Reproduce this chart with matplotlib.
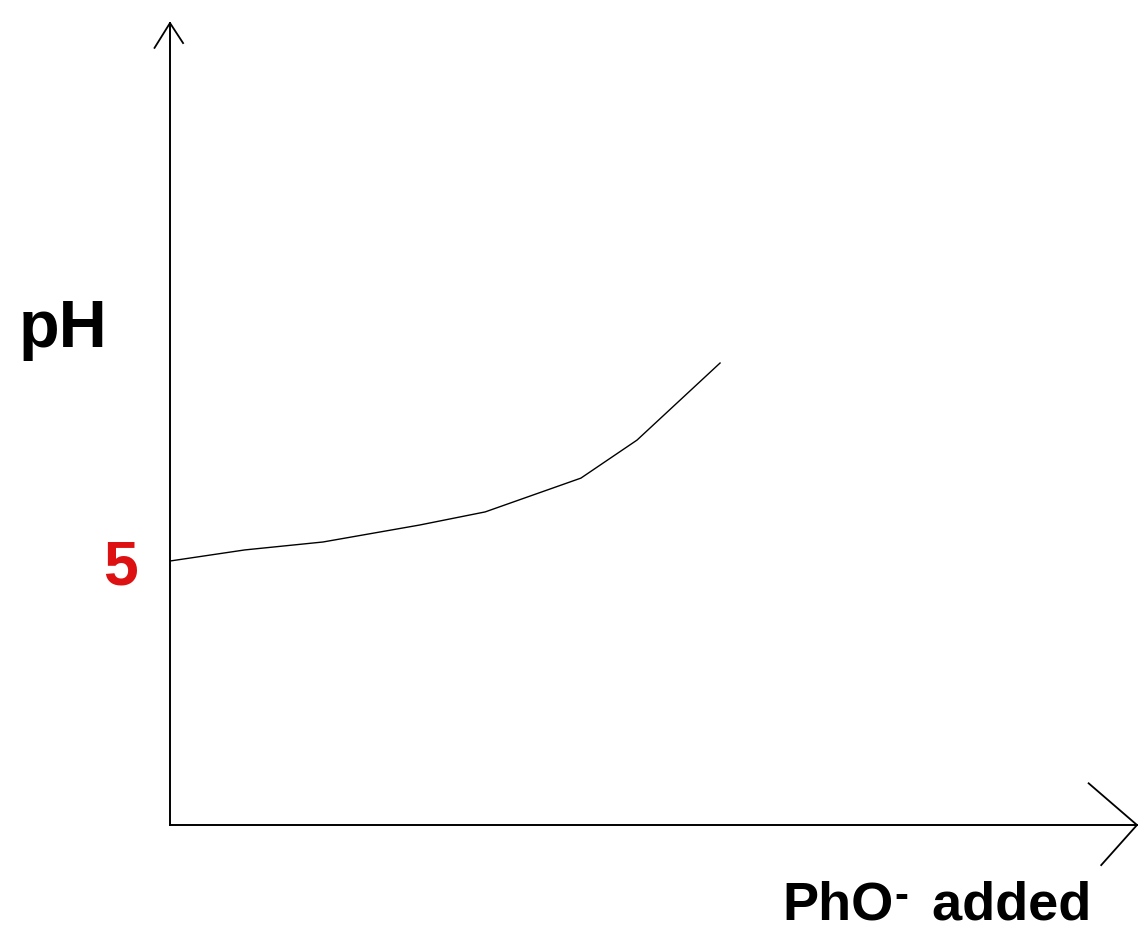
import matplotlib
matplotlib.use('Agg')
import matplotlib.pyplot as plt

plt.rcParams['font.family'] = ['Liberation Sans', 'DejaVu Sans']

# data
phO_added = [0.0, 1.36, 2.78, 4.53, 5.73, 7.47, 8.49, 10.0]
pH = [5.0, 5.21, 5.36, 5.68, 5.93, 6.57, 7.29, 8.75]
y_ticks = [5]
y_tick_labels = ['5']

fig = plt.figure(figsize=(11.39, 9.34), dpi=100)
ax = fig.add_axes([170 / 1139, 109 / 934, 967 / 1139, 802 / 934])

ax.plot(phO_added, pH, color='black', lw=1.0)

ax.set_xlim(0, 17.58)
ax.set_ylim(0, 15.19)

for s in ['top', 'right']:
    ax.spines[s].set_visible(False)
for s in ['left', 'bottom']:
    ax.spines[s].set_linewidth(1.4)

ax.set_xticks([])
ax.set_yticks(y_ticks)
ax.set_yticklabels(y_tick_labels, color='#dd1111', fontsize=45, fontweight='bold')
ax.tick_params(axis='y', length=0, pad=23)

ax.set_ylabel('pH', rotation=0, fontsize=48, fontweight='bold', ha='center', va='center')
ax.yaxis.set_label_coords(-0.111, 0.617)

# x label: "PhO" + small raised dash + " added"
t1 = ax.text((782 - 170) / 967, -(919 - 825) / 802, 'PhO', transform=ax.transAxes,
             fontsize=39, fontweight='bold', ha='left', va='baseline')
t2 = ax.annotate('-', xy=(1.0, 1.0), xycoords=t1, xytext=(1, 2), textcoords='offset points',
                 fontsize=30, fontweight='bold', ha='left', va='top')
ax.annotate(' added', xy=(1.0, 0.0), xycoords=(t2, t1), xytext=(6, 0),
            textcoords='offset points', fontsize=39, fontweight='bold',
            ha='left', va='bottom')

# open arrow heads at the axis ends
ax.plot([-0.016, 0.0, 0.0135], [0.969, 1.0, 0.975], color='black', lw=1.3,
        transform=ax.transAxes, clip_on=False)
ax.plot([0.95, 1.0, 0.963], [0.052, 0.0, -0.05], color='black', lw=1.3,
        transform=ax.transAxes, clip_on=False)

plt.savefig('out.png', dpi=100)
